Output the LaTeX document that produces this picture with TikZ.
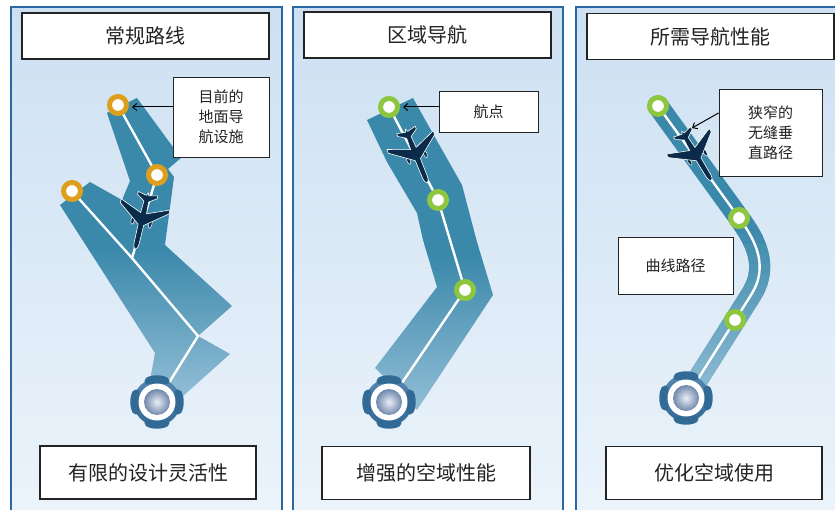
\documentclass[tikz,border=0pt]{standalone}
\usepackage{fontspec}
\newfontfamily\cjkfont{Noto Sans CJK SC}
\usetikzlibrary{arrows.meta}

\definecolor{panelTop}{RGB}{205,224,242}
\definecolor{panelBot}{RGB}{236,244,251}
\definecolor{panelEdge}{RGB}{42,104,162}
\definecolor{bandDark}{RGB}{58,136,170}
\definecolor{bandLight}{RGB}{146,190,214}
\definecolor{navaid}{RGB}{222,160,28}
\definecolor{fixgreen}{RGB}{141,198,63}
\definecolor{jetcol}{RGB}{10,44,74}
\definecolor{cogBlue}{RGB}{50,106,150}
\definecolor{cogLight}{RGB}{84,134,176}
\definecolor{ballHi}{RGB}{234,238,246}
\definecolor{ballLo}{RGB}{112,136,172}
\definecolor{ink}{RGB}{35,35,35}

% route corridor: solid at the top, fading towards the airport
\pgfdeclareverticalshading{bandfade}{100bp}{color(0bp)=(bandLight); color(25bp)=(bandLight); color(50bp)=(bandDark); color(100bp)=(bandDark)}

\tikzset{
  panel/.style={draw=panelEdge, line width=1.5pt, top color=panelTop, bottom color=panelBot},
  titlebox/.style={draw=ink, line width=1.3pt, fill=white, minimum width=247pt, minimum height=46pt,
    inner sep=0pt, font=\cjkfont\fontsize{20pt}{24pt}\selectfont, text=ink},
  footbox/.style={titlebox, minimum width=216pt, minimum height=53pt},
  notebox/.style={draw=ink, line width=0.9pt, fill=white, inner sep=0pt, align=center,
    font=\cjkfont\fontsize{15pt}{20pt}\selectfont, text=ink},
  band/.style={shade, shading=bandfade},
  rnpband/.style={line width=21pt, line cap=round, line join=round},
  routeline/.style={draw=white, line width=2.4pt, line join=round},
  navring/.style={circle, draw=navaid, line width=5pt, fill=white, minimum size=17pt, inner sep=0pt},
  fixring/.style={navring, draw=fixgreen},
  pointer/.style={draw=black, line width=1pt, -{Straight Barb[length=4pt,width=7pt]}},
  jetsil/.pic={
    \filldraw[fill=jetcol, draw=white, line width=0.5pt] (2,9) ellipse (4.5 and 1.7);
    \filldraw[fill=jetcol, draw=white, line width=0.5pt] (2,-9) ellipse (4.5 and 1.7);
    \filldraw[fill=jetcol, draw=white, line width=0.6pt, line join=round]
      (30,0) .. controls (29,2) and (27,2.6) .. (24,2.6)
      -- (5,2.8) -- (-12,25) -- (-16,25) -- (-7,3) -- (-19,2.4) -- (-24,10) -- (-27,10)
      -- (-25,1.2) -- (-28,0)
      -- (-25,-1.2) -- (-27,-10) -- (-24,-10) -- (-19,-2.4) -- (-7,-3) -- (-16,-25)
      -- (-12,-25) -- (5,-2.8) -- (24,-2.6)
      .. controls (27,-2.6) and (29,-2) .. (30,0) -- cycle;
  },
  airport/.pic={
    \shade[top color=cogLight, bottom color=cogBlue] (0,0) circle (23.5);
    \foreach \a in {0,90,180,270}
      \fill[cogBlue, rounded corners=2pt] (\a-34:22) -- (\a-28:26.5)
        arc[start angle=\a-28, end angle=\a+28, radius=26.5] -- (\a+34:22) -- cycle;
    \fill[white] (0,0) circle (18.5);
    \shade[inner color=ballHi, outer color=ballLo] (0,0) circle (13);
  },
}

\begin{document}
\begin{tikzpicture}[x=1pt,y=-1pt]
\useasboundingbox (0,0) rectangle (835,510);
\clip (0,0) rectangle (835,510);

% three panels
\path[panel] (11,7) rectangle (282,530);
\path[panel] (293,7) rectangle (563,530);
\path[panel] (576,7) rectangle (860,530);

% waypoints, junctions and airports
\coordinate (c1a) at (118,105);
\coordinate (c1b) at (157,175);
\coordinate (c1c) at (72,191);
\coordinate (j1) at (132,258);
\coordinate (j2) at (198,336);
\coordinate (ap1) at (157,402);
\coordinate (c2a) at (389,107);
\coordinate (c2b) at (438,200);
\coordinate (c2c) at (465,290);
\coordinate (ap2) at (389,402);
\coordinate (c3a) at (658,106);
\coordinate (c3b) at (739,218);
\coordinate (c3c) at (735,320);
\coordinate (ap3) at (686,398);

% conventional routes: wide protected areas
\path[band] (107,113) -- (137,98) -- (181,158) -- (168,169) -- (174,177) -- (165,245)
  -- (232,306) -- (198,336) -- (230,354) -- (182,397) -- (150,380) -- (155,353)
  -- (60,205) -- (90,182) -- (122,200) -- (130,181) -- cycle;
\draw[routeline] (c1a) -- (c1b) -- (j1);
\draw[routeline] (c1c) -- (j1) -- (j2) -- (ap1);

% area navigation corridor
\path[band] (367,120) -- (413,98) -- (432,132) -- (462,185) -- (477,242) -- (493,295)
  -- (417,410) -- (375,368) -- (437,287) -- (423,240) -- (417,213) -- (387,162) -- cycle;
\draw[routeline] (c2a) -- (c2b) -- (c2c) -- (ap2);

% RNP corridor: narrow, curved, fading towards the airport
\draw[rnpband, draw=bandDark] (c3a) -- (742,222) .. controls (759,246) and (767,270) .. (751,295) -- (ap3);
\foreach \i in {0,...,17} {
  \pgfmathsetmacro\ya{225+\i*10}
  \pgfmathsetmacro\yb{\ya+11}
  \pgfmathtruncatemacro\p{min(100,(\i*10+5)/1.75)}
  \colorlet{slicecol}{bandLight!\p!bandDark}
  \begin{scope}
    \clip (600,\ya) rectangle (800,\yb);
    \draw[rnpband, draw=slicecol] (c3a) -- (742,222) .. controls (759,246) and (767,270) .. (751,295) -- (ap3);
  \end{scope}
}
\draw[routeline] (c3a) -- (742,222) .. controls (759,246) and (767,270) .. (751,295) -- (ap3);

% airports
\pic at (ap1) {airport};
\pic at (ap2) {airport};
\pic at (ap3) {airport};

% waypoint markers
\node[navring] (w1a) at (c1a) {};
\node[navring] (w1b) at (c1b) {};
\node[navring] (w1c) at (c1c) {};
\node[fixring] (w2a) at (c2a) {};
\node[fixring] (w2b) at (c2b) {};
\node[fixring] (w2c) at (c2c) {};
\node[fixring] (w3a) at (c3a) {};
\node[fixring] (w3b) at (c3b) {};
\node[fixring] (w3c) at (c3c) {};

% aircraft
\pic[rotate=-103] at (142,220) {jetsil};
\pic[rotate=-68] at (416,155) {jetsil};
\pic[rotate=-59] at (696,155) {jetsil};

% headings
\node[titlebox] (h1) at (145.5,36) {常规路线};
\node[titlebox] (h2) at (427.5,35) {区域导航};
\node[titlebox] (h3) at (710.5,36.5) {所需导航性能};

% outcomes
\node[footbox] (f1) at (148,472.5) {有限的设计灵活性};
\node[footbox, minimum width=208pt] (f2) at (426,473) {增强的空域性能};
\node[footbox] (f3) at (714,473) {优化空域使用};

% callouts
\node[notebox, minimum width=96pt, minimum height=80pt] (n1) at (221,117) {目前的\\地面导\\航设施};
\node[notebox, minimum width=99pt, minimum height=41pt] (n2) at (488.5,111.5) {航点};
\node[notebox, minimum width=103pt, minimum height=87pt] (n3) at (770.5,132.5) {狭窄的\\无缝垂\\直路径};
\node[notebox, minimum width=115pt, minimum height=57pt] (n4) at (675.5,265.5) {曲线路径};

\coordinate (t1) at (132,107);
\coordinate (t2) at (403,107);
\coordinate (t3) at (692,128);
\draw[pointer] (n1.west |- t1) -- (t1);
\draw[pointer] (n2.west |- t2) -- (t2);
\draw[pointer] ([yshift=19.5pt]n3.west) -- (t3);
\end{tikzpicture}
\end{document}
